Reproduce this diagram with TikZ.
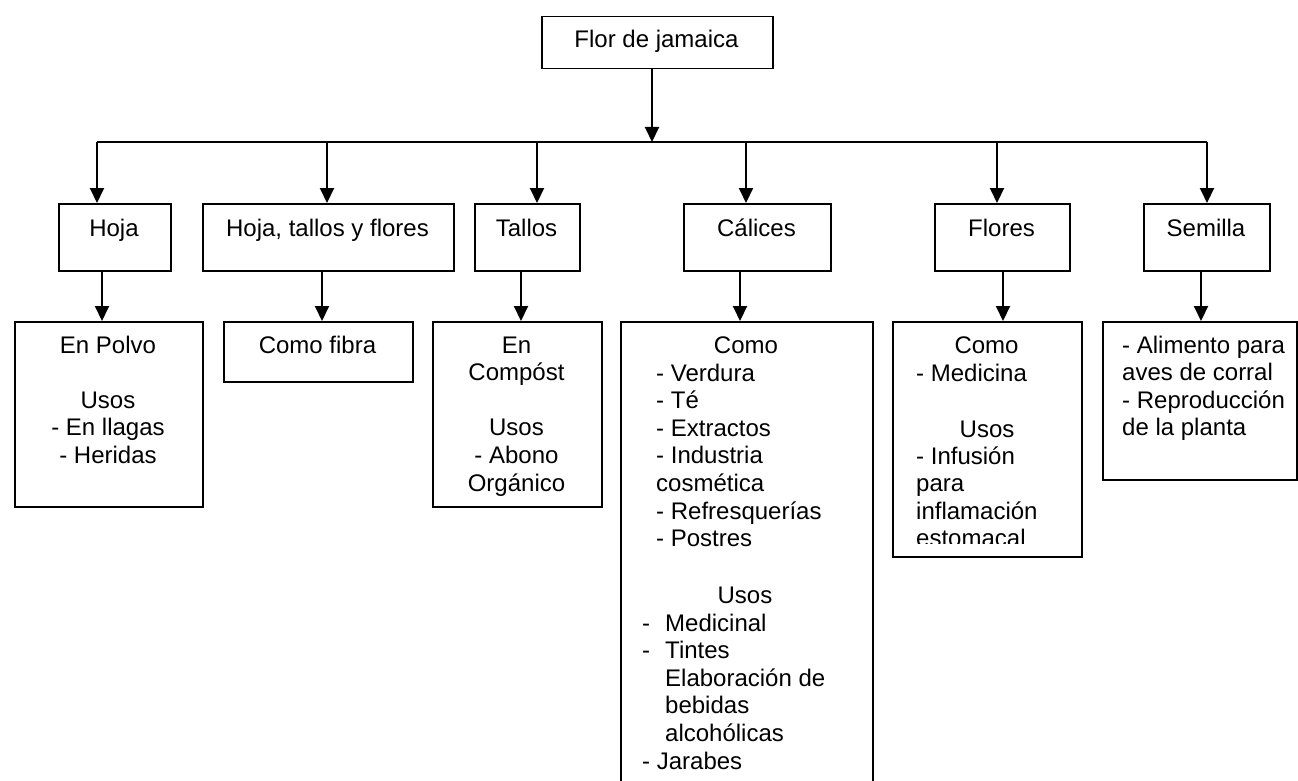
\documentclass[tikz,border=0pt]{standalone}
\usepackage{fontspec}
\setmainfont{Liberation Sans}
\usetikzlibrary{arrows.meta}
\tikzset{
  box/.style={draw=black, line width=1.5pt, rectangle, inner sep=0pt, anchor=north west},
  txt/.style={inner sep=0pt, font=\fontsize{24}{27.6}\selectfont},
  % multi-line texts are placed by the baseline of their last line
  ctxt/.style={txt, align=center, anchor=base},
  ltxt/.style={txt, align=left, anchor=base west},
  arr/.style={line width=2pt, -{Triangle[length=15pt,width=14pt]}},
  bar/.style={line width=2.5pt},
}
\begin{document}
\begin{tikzpicture}[x=1pt,y=-1pt]
\useasboundingbox (0,0) rectangle (1298,781);
\clip (0,0) rectangle (1298,781);

% root
\node[box, minimum width=231pt, minimum height=52pt] (root) at (541,16) {};
\node[ctxt] (rootT) at (656.5,48) {Flor de jamaica};

% second level
\node[box, minimum width=112pt, minimum height=67pt] (hoja) at (58,203) {};
\node[box, minimum width=251pt, minimum height=67pt] (htf) at (202,203) {};
\node[box, minimum width=105pt, minimum height=67pt] (tallos) at (474,203) {};
\node[box, minimum width=147pt, minimum height=67pt] (calices) at (683,203) {};
\node[box, minimum width=135pt, minimum height=67pt] (flores) at (934,203) {};
\node[box, minimum width=126pt, minimum height=67pt] (semilla) at (1143,203) {};
\node[ctxt] (hojaT) at (114,236) {Hoja};
\node[ctxt] (htfT) at (327.5,236) {Hoja, tallos y flores};
\node[ctxt] (tallosT) at (526.5,236) {Tallos};
\node[ctxt] (calicesT) at (756.5,236) {Cálices};
\node[ctxt] (floresT) at (1001.5,236) {Flores};
\node[ctxt] (semillaT) at (1206,236) {Semilla};

% third level
\node[box, minimum width=188pt, minimum height=185pt] (polvo) at (14,321) {};
\node[box, minimum width=189pt, minimum height=60pt] (fibra) at (223,321) {};
\node[box, minimum width=169pt, minimum height=185pt] (compost) at (432,321) {};
\node[box, minimum width=252pt, minimum height=480pt] (usoscal) at (620,321) {};
\node[box, minimum width=189pt, minimum height=235pt] (usosflor) at (892,321) {};
\node[box, minimum width=194pt, minimum height=158pt] (usossem) at (1102,321) {};

\node[ctxt] (polvoT) at (108,463.4) {En Polvo\\[27.6pt]Usos\\- En llagas\\- Heridas};
\node[ctxt] (fibraT) at (317.5,353) {Como fibra};
\node[ctxt] (compostT) at (516.5,491) {En\\Compóst\\[27.6pt]Usos\\- Abono\\Orgánico};

\node[ctxt] (calComoH) at (746,353) {Como};
\node[ltxt] (calComo) at (656,546.6) {- Verdura\\- Té\\- Extractos\\- Industria\\cosmética\\- Refresquerías\\- Postres};
\node[ctxt] (calUsosH) at (745,603) {Usos};
\node[ltxt] (calUsos) at (642,769) {\makebox[23pt][l]{-}Medicinal\\\makebox[23pt][l]{-}Tintes\\\hspace*{23pt}Elaboración de\\\hspace*{23pt}bebidas\\\hspace*{23pt}alcohólicas\\- Jarabes};

\node[ctxt] (florComoH) at (986.5,353) {Como};
\node[ltxt] (florMed) at (916,381) {- Medicina};
\node[ctxt] (florUsosH) at (987,437) {Usos};
\begin{scope}
  % the last line runs past the text frame and is cut off at its foot
  \clip (892,321) rectangle (1081,543.5);
  \node[ltxt] (florUsos) at (916,546.8) {- Infusión\\para\\inflamación\\estomacal};
\end{scope}

\node[ltxt] (semT) at (1122,435.8) {- Alimento para\\aves de corral\\- Reproducción\\de la planta};

% connectors from the root to the branch bar
\coordinate (j) at (652,142);
\draw[arr] (root.south -| j) -- (j);
\coordinate (b1) at (97,142);
\coordinate (b2) at (327,142);
\coordinate (b3) at (537,142);
\coordinate (b4) at (746,142);
\coordinate (b5) at (997,142);
\coordinate (b6) at (1207,142);
\draw[bar] (b1) -- (b6);
\draw[arr] (b1) -- (b1 |- hoja.north);
\draw[arr] (b2) -- (b2 |- htf.north);
\draw[arr] (b3) -- (b3 |- tallos.north);
\draw[arr] (b4) -- (b4 |- calices.north);
\draw[arr] (b5) -- (b5 |- flores.north);
\draw[arr] (b6) -- (b6 |- semilla.north);

% connectors from second to third level
\coordinate (c1) at (102,0);
\coordinate (c2) at (322,0);
\coordinate (c3) at (521,0);
\coordinate (c4) at (740,0);
\coordinate (c5) at (1003,0);
\coordinate (c6) at (1201,0);
\draw[arr] (c1 |- hoja.south) -- (c1 |- polvo.north);
\draw[arr] (c2 |- htf.south) -- (c2 |- fibra.north);
\draw[arr] (c3 |- tallos.south) -- (c3 |- compost.north);
\draw[arr] (c4 |- calices.south) -- (c4 |- usoscal.north);
\draw[arr] (c5 |- flores.south) -- (c5 |- usosflor.north);
\draw[arr] (c6 |- semilla.south) -- (c6 |- usossem.north);
\end{tikzpicture}
\end{document}
